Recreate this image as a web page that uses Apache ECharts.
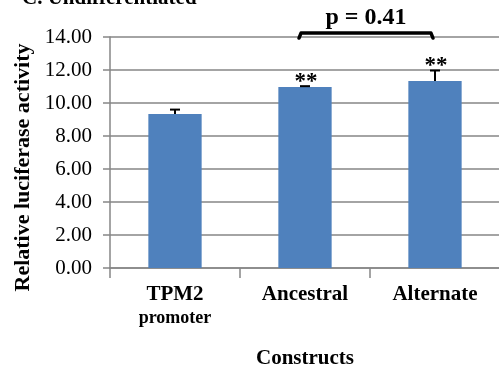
<!DOCTYPE html>
<html>
<head>
<meta charset="utf-8">
<script src="https://cdn.jsdelivr.net/npm/echarts@6/dist/echarts.min.js"></script>
<style>
  html, body { margin: 0; padding: 0; background: #ffffff; }
  #chart { width: 499px; height: 366px; }
</style>
</head>
<body>
<div id="chart"></div>
<script>
// Luciferase reporter activity per construct (mean, upper SD)
const categories = ['TPM2\npromoter', 'Ancestral', 'Alternate'];
const activity = [9.33, 10.97, 11.33];
const errorUp = [0.27, 0.05, 0.64];
const significance = ['', '**', '**'];
const yTicks = [0, 2, 4, 6, 8, 10, 12, 14];
const pLabel = 'p = 0.41';
const bracketPair = [1, 2];
const bracketLevel = 14.24;

const serif = '"Liberation Serif", "Times New Roman", serif';
const axisGray = '#868686';
const barBlue = '#4F81BD';

const chart = echarts.init(document.getElementById('chart'), null, { renderer: 'canvas' });

const errorData = activity.map((v, i) => [i, v, errorUp[i], significance[i]]);

chart.setOption({
  animation: false,
  backgroundColor: '#ffffff',
  grid: { left: 110, top: 37, width: 390, bottom: 98, containLabel: false, outerBoundsMode: 'none' },
  xAxis: {
    type: 'category',
    data: categories,
    name: 'Constructs',
    nameLocation: 'middle',
    nameGap: 80,
    nameTextStyle: { fontFamily: serif, fontWeight: 'bold', fontSize: 21, color: '#000' },
    axisLine: { show: true, lineStyle: { color: axisGray, width: 1.5 } },
    axisTick: { show: true, length: 10, lineStyle: { color: axisGray, width: 1.5 } },
    axisLabel: {
      margin: 15,
      interval: 0,
      formatter: function (val) {
        const parts = val.split('\n');
        return parts.length > 1 ? '{main|' + parts[0] + '}\n{sub|' + parts[1] + '}' : '{main|' + val + '}';
      },
      rich: {
        main: { fontFamily: serif, fontWeight: 'bold', fontSize: 21, color: '#000', lineHeight: 24 },
        sub: { fontFamily: serif, fontWeight: 'bold', fontSize: 18, color: '#000', lineHeight: 22 }
      }
    }
  },
  yAxis: {
    type: 'value',
    min: 0,
    max: 14,
    interval: 2,
    name: 'Relative luciferase activity',
    nameLocation: 'middle',
    nameGap: 75,
    nameTextStyle: { fontFamily: serif, fontWeight: 'bold', fontSize: 22, color: '#000', padding: [0, 30, 0, 0] },
    axisLine: { show: true, lineStyle: { color: axisGray, width: 1.5 } },
    axisTick: { show: true, length: 7, lineStyle: { color: axisGray, width: 1.5 } },
    splitLine: { show: true, lineStyle: { color: axisGray, width: 1.5 } },
    axisLabel: {
      margin: 18,
      fontFamily: serif,
      fontSize: 21,
      color: '#000',
      formatter: function (v) { return yTicks.includes(v) ? v.toFixed(2) : ''; }
    }
  },
  series: [
    {
      type: 'bar',
      data: activity,
      barWidth: '41%',
      itemStyle: { color: barBlue },
      z: 2
    },
    {
      type: 'custom',
      data: errorData,
      z: 3,
      renderItem: function (params, api) {
        const base = api.coord([api.value(0), api.value(1)]);
        const top = api.coord([api.value(0), api.value(1) + api.value(2)]);
        const cap = 5;
        const stroke = { stroke: '#000', lineWidth: 2 };
        const children = [
          { type: 'line', shape: { x1: base[0], y1: base[1], x2: base[0], y2: top[1] }, style: stroke },
          { type: 'line', shape: { x1: base[0] - cap, y1: top[1], x2: base[0] + cap, y2: top[1] }, style: stroke }
        ];
        const mark = significance[params.dataIndex];
        if (mark) {
          children.push({
            type: 'text',
            style: {
              text: mark, x: base[0] + 1, y: top[1] + 7,
              align: 'center', verticalAlign: 'bottom',
              font: 'bold 23px ' + serif, fill: '#000'
            }
          });
        }
        return { type: 'group', children: children };
      }
    }
  ]
});

// Significance bracket and the figure panel title
const p1 = chart.convertToPixel({ gridIndex: 0 }, [bracketPair[0], bracketLevel]);
const p2 = chart.convertToPixel({ gridIndex: 0 }, [bracketPair[1], bracketLevel]);
const x1 = p1[0] - 6, x2 = p2[0] - 2, yb = p1[1];
chart.setOption({
  graphic: [
    {
      type: 'polyline',
      shape: { points: [[x1, yb + 5], [x1 + 2, yb], [x2 - 2, yb], [x2, yb + 5]] },
      style: { stroke: '#000', lineWidth: 3.5, fill: null, lineJoin: 'round', lineCap: 'round' },
      z: 10
    },
    {
      type: 'text',
      x: (x1 + x2) / 2, y: yb - 3,
      style: { text: pLabel, align: 'center', verticalAlign: 'bottom', font: 'bold 24px ' + serif, fill: '#000' },
      z: 10
    },
    {
      type: 'text',
      x: 22, y: 9,
      style: { text: 'C. Undifferentiated', align: 'left', verticalAlign: 'bottom', font: 'bold 21px ' + serif, fill: '#000' },
      z: 10
    }
  ]
});
</script>
</body>
</html>
